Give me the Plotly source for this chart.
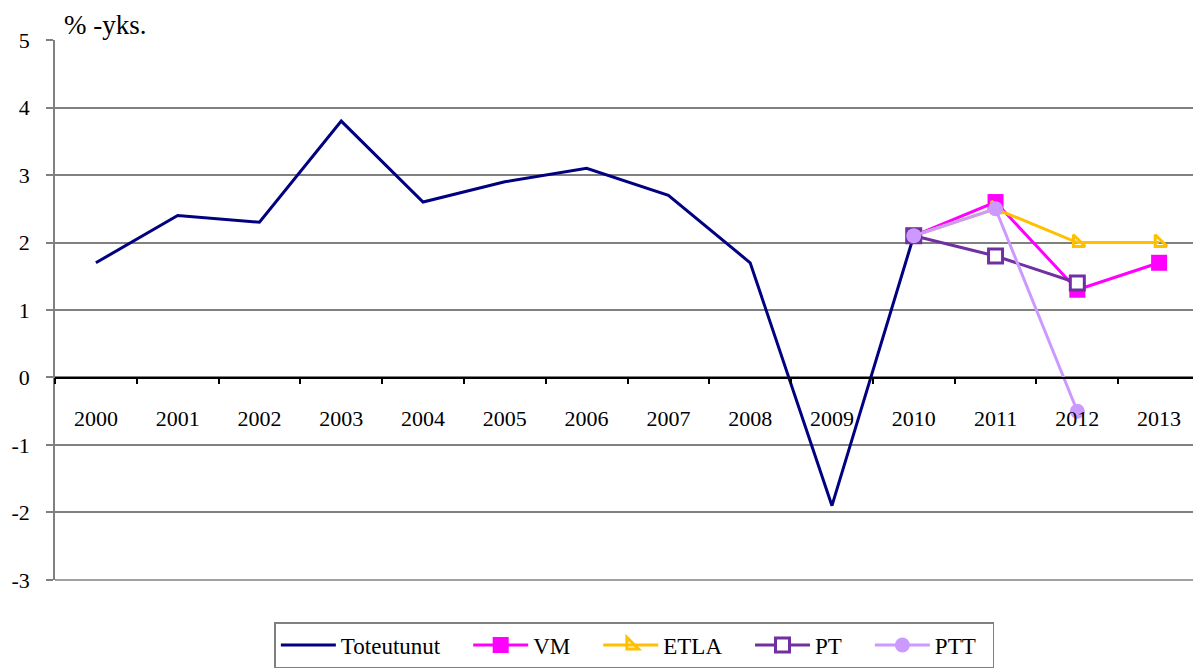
import plotly.graph_objects as go

years = [str(y) for y in range(2000, 2014)]
toteutunut = [1.7, 2.4, 2.3, 3.8, 2.6, 2.9, 3.1, 2.7, 1.7, -1.9, 2.1, None, None, None]
vm = [None]*10 + [2.1, 2.6, 1.3, 1.7]
etla = [None]*10 + [2.1, 2.5, 2.0, 2.0]
pt = [None]*10 + [2.1, 1.8, 1.4, None]
ptt = [None]*10 + [2.1, 2.5, -0.5, None]
y_ticks = [-3, -2, -1, 0, 1, 2, 3, 4, 5]
y_ticktext = ["-3", "-2", "-1", "0", "1", "2", "3", "4", "5"]

FONT = "Liberation Serif"
PAD = "\u00a0" * 4

fig = go.Figure()
fig.add_trace(go.Scatter(x=years, y=toteutunut, name="Toteutunut" + PAD, mode="lines",
                         line=dict(color="#000080", width=3)))
fig.add_trace(go.Scatter(x=years, y=vm, name="VM" + PAD, mode="lines+markers",
                         line=dict(color="#FF00FF", width=3),
                         marker=dict(symbol="square", size=16, color="#FF00FF")))
fig.add_trace(go.Scatter(x=years, y=etla, name="ETLA" + PAD, mode="lines+markers",
                         line=dict(color="#FFC000", width=3),
                         marker=dict(symbol="triangle-sw-open", size=13, color="#FFC000",
                                     line=dict(color="#FFC000", width=3))))
fig.add_trace(go.Scatter(x=years, y=pt, name="PT" + PAD, mode="lines+markers",
                         line=dict(color="#7030A0", width=3),
                         marker=dict(symbol="square", size=14, color="white",
                                     line=dict(color="#7030A0", width=3))))
fig.add_trace(go.Scatter(x=years, y=ptt, name="PTT\u00a0\u00a0", mode="lines+markers",
                         line=dict(color="#CC99FF", width=3),
                         marker=dict(symbol="circle", size=15, color="#CC99FF")))

fig.update_layout(
    width=1193, height=664,
    margin=dict(l=47, r=1, t=32, b=92, autoexpand=False),
    paper_bgcolor="white", plot_bgcolor="white",
    font=dict(family=FONT, size=22, color="black"),
    showlegend=True,
    legend=dict(orientation="h", x=0.506, xanchor="center", y=-0.078, yanchor="top",
                bordercolor="#808080", borderwidth=1.5, font=dict(size=23, family=FONT),
                itemwidth=55, traceorder="normal"),
    xaxis=dict(type="category", anchor="free", position=0.375,
               showline=True, linecolor="black", linewidth=1.5,
               ticks="outside", ticklen=6, tickcolor="black", tickwidth=1.5,
               tickson="boundaries", showgrid=False, range=[-0.5, 13.5],
               tickfont=dict(size=22, family=FONT), ticklabelstandoff=21),
    yaxis=dict(range=[-3.002, 5.002], tickvals=y_ticks, ticktext=y_ticktext,
               showgrid=True, gridcolor="#808080", gridwidth=1.5,
               zeroline=False, showline=True, linecolor="#808080", linewidth=1.5,
               ticks="outside", ticklen=7, tickcolor="#808080", tickwidth=1.5,
               tickfont=dict(size=22, family=FONT), ticklabelstandoff=12),
    shapes=[
        dict(type="line", xref="paper", yref="paper", x0=0, x1=1, y0=0, y1=0,
             line=dict(color="#808080", width=1.5), layer="below"),
        dict(type="line", xref="paper", yref="paper", x0=1, x1=1, y0=0, y1=1,
             line=dict(color="#808080", width=1.5), layer="below"),
    ],
    annotations=[dict(text="% -yks.", xref="paper", yref="paper", x=0.006, y=1.0,
                      xanchor="left", yanchor="bottom", showarrow=False,
                      font=dict(size=27, family=FONT), yshift=-2)],
)

fig.write_html("out.html")
